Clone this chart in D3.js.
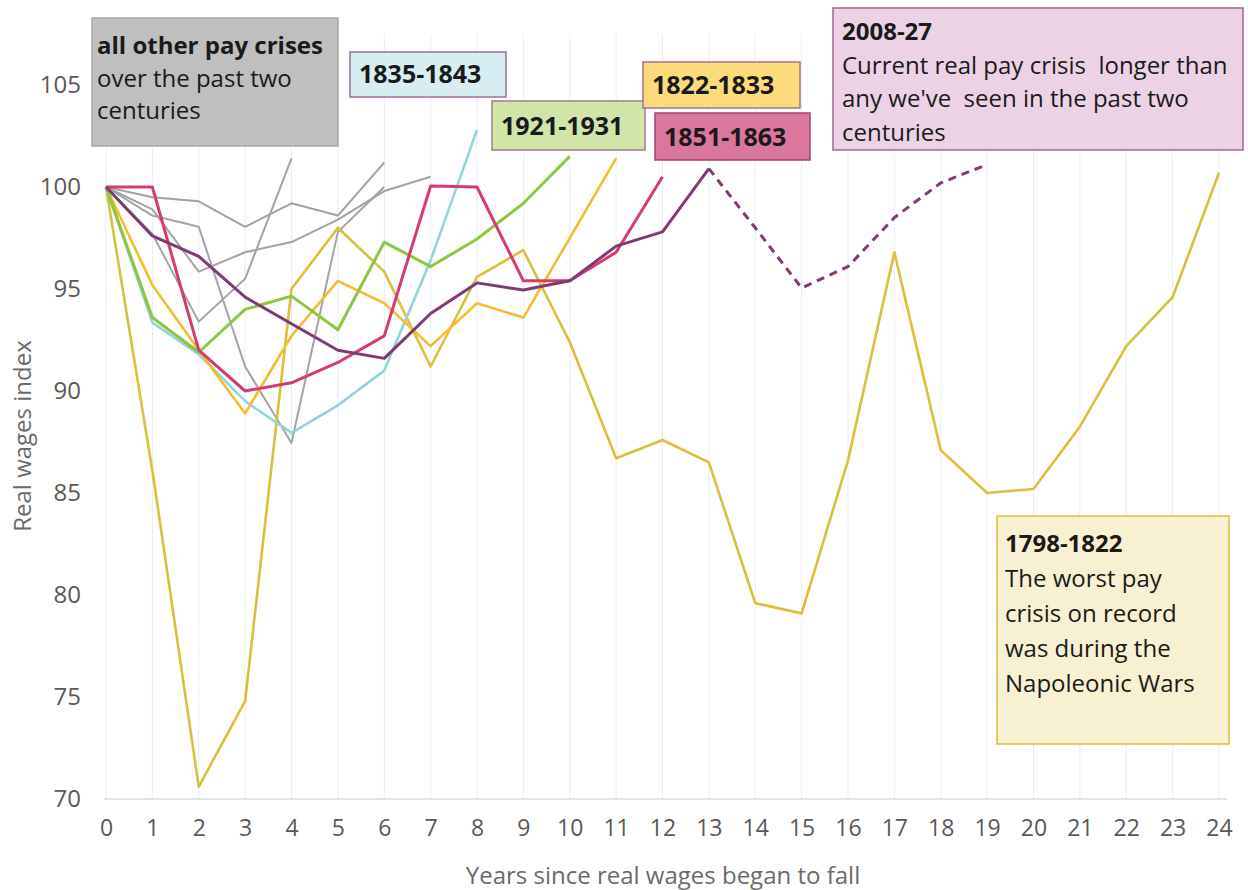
<!DOCTYPE html>
<html>
<head>
<meta charset="utf-8">
<script src="https://cdn.jsdelivr.net/npm/d3@7"></script>
<style>
  body { margin: 0; background: #fff; }
  svg { display: block; font-family: "Open Sans", "Noto Sans", sans-serif; }
  text { white-space: pre; }
</style>
</head>
<body>
<svg id="chart" width="1248" height="890"></svg>
<script>
// tick labels
var xTicks = [0, 1, 2, 3, 4, 5, 6, 7, 8, 9, 10, 11, 12, 13, 14, 15, 16, 17, 18, 19, 20, 21, 22, 23, 24];
var yTicks = [70, 75, 80, 85, 90, 95, 100, 105];

// real wages index, one value per year starting at year 0
var crisis1798 = [100, 86.1, 70.6, 74.8, 95.0, 98.0, 95.85, 91.2, 95.6, 96.9, 92.4, 86.7, 87.6, 86.5, 79.6, 79.1, 86.6, 96.8, 87.1, 85.0, 85.2, 88.25, 92.2, 94.6, 100.7];
var crisis1822 = [100, 95.2, 92.0, 88.9, 92.7, 95.4, 94.3, 92.2, 94.3, 93.6, 97.5, 101.4];
var crisis1835 = [100, 93.35, 91.8, 89.5, 87.95, 89.3, 91.0, 96.4, 102.8];
var crisis1921 = [100, 93.6, 91.9, 94.0, 94.65, 93.0, 97.3, 96.1, 97.45, 99.2, 101.5];
var crisis1851 = [100, 100.0, 92.0, 90.0, 90.4, 91.4, 92.7, 100.05, 100.0, 95.4, 95.4, 96.8, 100.5];
var crisis2008 = [100, 97.6, 96.6, 94.6, 93.3, 92.0, 91.6, 93.8, 95.3, 94.95, 95.4, 97.1, 97.8, 100.9];
// projection, starts at year 13
var forecastStart = 13;
var forecast2008 = [100.9, 98.0, 95.05, 96.1, 98.5, 100.2, 101.1];

// all other crises (grey)
var otherA = [100, 99.5, 99.3, 98.05, 99.2, 98.6, 101.2];
var otherB = [100, 98.9, 95.85, 96.8, 97.3, 98.4, 99.8, 100.5];
var otherC = [100, 98.6, 98.05, 91.2, 87.45, 97.8, 100.0];
var otherD = [100, 97.7, 93.4, 95.5, 101.4];

var svg = d3.select("#chart");

var x = d3.scaleLinear().domain([0, 24]).range([106, 1219]);
var y = d3.scaleLinear().domain([70, 105]).range([799, 85]);

// vertical gridlines
svg.append("g")
  .selectAll("line")
  .data(xTicks)
  .enter()
  .append("line")
  .attr("x1", d => x(d)).attr("x2", d => x(d))
  .attr("y1", y(107.5)).attr("y2", y(70))
  .attr("stroke", "#e6edf1")
  .attr("stroke-width", 1);

// baseline
svg.append("line")
  .attr("x1", x(0) - 2).attr("x2", x(24) + 8)
  .attr("y1", y(70)).attr("y2", y(70))
  .attr("stroke", "#d9d9d9")
  .attr("stroke-width", 1.5);

// x axis labels
var xAxis = d3.axisBottom(x).tickValues(xTicks).tickSize(0).tickPadding(0);
var gx = svg.append("g").attr("transform", "translate(0," + 820 + ")").call(xAxis);
gx.select(".domain").remove();
gx.selectAll("text")
  .attr("font-family", "'Open Sans', sans-serif")
  .attr("font-size", 23)
  .attr("fill", "#595959")
  .attr("dy", "0.71em");

// y axis labels
var yAxis = d3.axisLeft(y).tickValues(yTicks).tickSize(0).tickPadding(0);
var gy = svg.append("g").attr("transform", "translate(81,0)").call(yAxis);
gy.select(".domain").remove();
gy.selectAll("text")
  .attr("font-family", "'Open Sans', sans-serif")
  .attr("font-size", 24)
  .attr("fill", "#595959");

// axis titles
svg.append("text")
  .attr("x", 663).attr("y", 884)
  .attr("text-anchor", "middle")
  .attr("font-size", 24)
  .attr("fill", "#6b6b6b")
  .text("Years since real wages began to fall");

svg.append("text")
  .attr("transform", "translate(31,436) rotate(-90)")
  .attr("text-anchor", "middle")
  .attr("font-size", 24)
  .attr("fill", "#6b6b6b")
  .text("Real wages index");

var line = d3.line()
  .x(d => x(d[0]))
  .y(d => y(d[1]));

function pts(values, start) {
  start = start || 0;
  return values.map((v, i) => [start + i, v]);
}

function drawLine(values, color, width, start, dash) {
  svg.append("path")
    .datum(pts(values, start))
    .attr("d", line)
    .attr("fill", "none")
    .attr("stroke", color)
    .attr("stroke-width", width)
    .attr("stroke-linejoin", "round")
    .attr("stroke-dasharray", dash || null);
}

[otherA, otherB, otherC, otherD].forEach(s => drawLine(s, "#a3a3a3", 2));
drawLine(crisis1798, "#d9bf3c", 2.6);
drawLine(crisis1835, "#92d3dc", 2.6);
drawLine(crisis1822, "#f7bb30", 2.6);
drawLine(crisis1921, "#8dc641", 3);
drawLine(crisis1851, "#d43c6f", 3);
drawLine(crisis2008, "#7e3b72", 3);
drawLine(forecast2008, "#7e3b72", 3, forecastStart, "8,6");

// annotation boxes
function box(x0, y0, w, h, fill, stroke, lines, size, lineH, padX, firstY) {
  var g = svg.append("g");
  g.append("rect")
    .attr("x", x0).attr("y", y0).attr("width", w).attr("height", h)
    .attr("fill", fill).attr("stroke", stroke).attr("stroke-width", 1.5);
  lines.forEach((l, i) => {
    g.append("text")
      .attr("x", x0 + padX)
      .attr("y", y0 + firstY + i * lineH)
      .attr("font-size", size)
      .attr("font-weight", l.bold ? 700 : 400)
      .attr("fill", "#1a1a1a")
      .text(l.t);
  });
}

box(92, 18, 246, 128, "#bfbfbf", "#a6a6a6",
  [{ t: "all other pay crises", bold: true }, { t: "over the past two" }, { t: "centuries" }],
  24, 32.5, 5, 36);
box(350, 52, 156, 45, "#d6eef1", "#9c7096", [{ t: "1835-1843", bold: true }], 25, 0, 9, 31);
box(492, 101, 153, 49, "#d2e5a8", "#a47a95", [{ t: "1921-1931", bold: true }], 25, 0, 9, 34);
box(643, 62, 157, 46, "#fdda7c", "#a8708e", [{ t: "1822-1833", bold: true }], 25, 0, 9, 32);
box(655, 113, 155, 47, "#db779d", "#a3456f", [{ t: "1851-1863", bold: true }], 25, 0, 9, 33);
box(833, 8, 410, 142, "#ebd3e5", "#9d6a92",
  [{ t: "2008-27", bold: true }, { t: "Current real pay crisis  longer than" }, { t: "any we've  seen in the past two" }, { t: "centuries" }],
  24, 33.5, 9, 32);
box(997, 516, 232, 228, "#f8f0d2", "#d9bf3c",
  [{ t: "1798-1822", bold: true }, { t: "The worst pay" }, { t: "crisis on record" }, { t: "was during the" }, { t: "Napoleonic Wars" }],
  24, 35, 8, 36);
</script>
</body>
</html>
